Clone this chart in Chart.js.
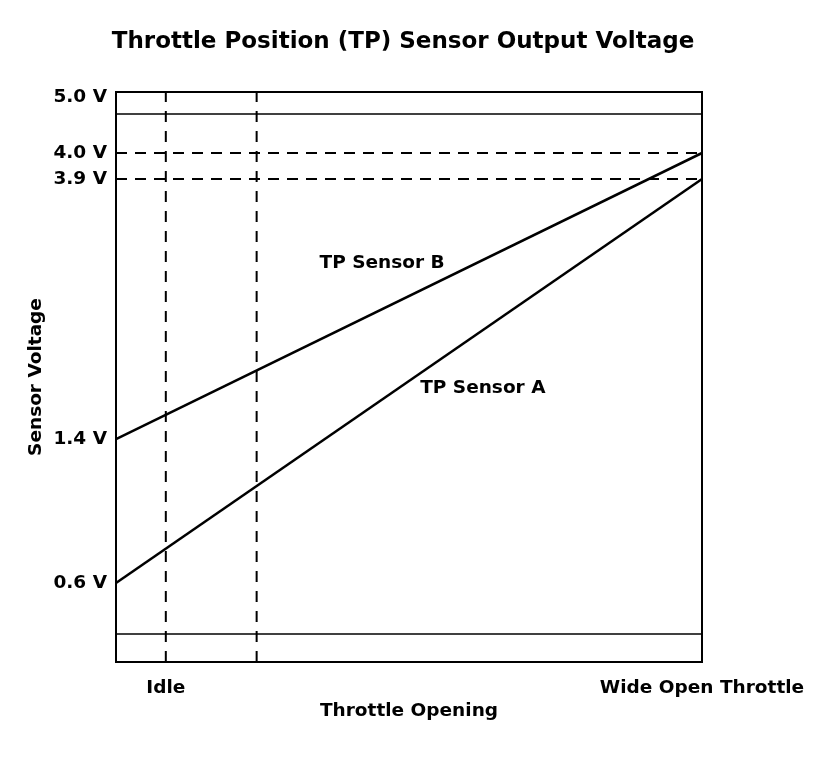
<!DOCTYPE html>
<html>
<head>
<meta charset="utf-8">
<title>Throttle Position (TP) Sensor Output Voltage</title>
<script src="https://cdn.jsdelivr.net/npm/chart.js@4.4.0/dist/chart.umd.min.js"></script>
<style>
  html, body { margin: 0; padding: 0; background: #fff; }
  #wrap { width: 832px; height: 780px; }
</style>
</head>
<body>
<div id="wrap"><canvas id="tp" width="832" height="780"></canvas></div>
<script>
// Throttle opening, percent: fully closed and wide open
const throttleEnds = [0, 100];
// Sensor output voltages at closed and wide open throttle
const sensorA = [0.6, 3.9];
const sensorB = [1.4, 4.0];
// Voltage levels marked on the axis
const voltageTicks = [0.6, 1.4, 3.9, 4.0, 5.0];
// Dashed guide levels (wide open throttle outputs)
const dashedLevels = [4.0, 3.9];
// Solid limit levels
const limitLevels = [4.8, 0.2];
// Throttle openings marked with dashed verticals (idle, part throttle)
const throttleMarks = [8.5, 24];
// Throttle axis labels and where they sit
const xTickValues = [8.5, 100];
const xTickLabels = ['Idle', 'Wide Open Throttle'];
// Voltage range of the plot
const vMin = 0;
const vMax = 5.1;

// The voltage axis is schematic: each marked level has its own spot on the axis.
// Pairs are [volts, fraction of axis height from the bottom].
const voltageBreaks = [
  [0.0, 0.0],
  [0.2, 0.0491],
  [0.6, 0.1386],
  [1.4, 0.3912],
  [3.9, 0.8474],
  [4.0, 0.8930],
  [4.8, 0.9614],
  [5.0, 0.9912],
  [5.1, 1.0]
];

function voltToDecimal(v) {
  const b = voltageBreaks;
  if (v <= b[0][0]) return b[0][1];
  for (let i = 1; i < b.length; i++) {
    if (v <= b[i][0]) {
      const t = (v - b[i - 1][0]) / (b[i][0] - b[i - 1][0]);
      return b[i - 1][1] + t * (b[i][1] - b[i - 1][1]);
    }
  }
  return b[b.length - 1][1];
}

function decimalToVolt(d) {
  const b = voltageBreaks;
  if (d <= b[0][1]) return b[0][0];
  for (let i = 1; i < b.length; i++) {
    if (d <= b[i][1]) {
      const t = (d - b[i - 1][1]) / (b[i][1] - b[i - 1][1]);
      return b[i - 1][0] + t * (b[i][0] - b[i - 1][0]);
    }
  }
  return b[b.length - 1][0];
}

class VoltageScale extends Chart.LinearScale {
  getPixelForValue(value) {
    if (value === null || value === undefined || isNaN(value)) return NaN;
    return this.getPixelForDecimal(voltToDecimal(value));
  }
  getValueForPixel(pixel) {
    return decimalToVolt(this.getDecimalForPixel(pixel));
  }
}
VoltageScale.id = 'voltage';
VoltageScale.defaults = Chart.LinearScale.defaults;
Chart.register(VoltageScale);

const FONT = '"DejaVu Sans", "Liberation Sans", Arial, sans-serif';
const INK = '#000';
const LABEL_FONT = { family: FONT, size: 18.5, weight: 'bold', lineHeight: 1.2 };

function lineSet(xs, ys, extra) {
  return Object.assign({
    data: xs.map((x, i) => ({ x: x, y: ys[i] })),
    borderColor: INK,
    backgroundColor: INK,
    borderWidth: 2,
    pointRadius: 0,
    pointHoverRadius: 0,
    fill: false,
    tension: 0
  }, extra || {});
}

// Curve names written next to the lines, in data coordinates
const curveNames = [
  { text: 'TP Sensor B', x: 45.4, y: 3.09 },
  { text: 'TP Sensor A', x: 62.6, y: 1.89 }
];

const curveNamePlugin = {
  id: 'curveNames',
  afterDatasetsDraw(chart) {
    const { ctx, scales } = chart;
    ctx.save();
    ctx.fillStyle = INK;
    ctx.font = 'bold 18.5px ' + FONT;
    ctx.textAlign = 'center';
    ctx.textBaseline = 'middle';
    curveNames.forEach(n => {
      ctx.fillText(n.text, scales.x.getPixelForValue(n.x), scales.y.getPixelForValue(n.y));
    });
    ctx.restore();
  }
};

const frameAxis = (position, size) => ({
  type: 'linear',
  position: position,
  display: true,
  ticks: { display: false },
  grid: { display: false, drawTicks: false },
  border: { display: true, color: INK, width: 2 },
  afterFit: s => {
    if (position === 'right') s.width = size;
    else s.height = size;
  }
});

new Chart(document.getElementById('tp'), {
  type: 'line',
  data: {
    datasets: [
      lineSet(throttleEnds, sensorA, { label: 'TP Sensor A', borderWidth: 2.5 }),
      lineSet(throttleEnds, sensorB, { label: 'TP Sensor B', borderWidth: 2.5 }),
      ...dashedLevels.map(v => lineSet(throttleEnds, [v, v], { label: v.toFixed(1) + ' V', borderDash: [11, 8] })),
      ...limitLevels.map(v => lineSet(throttleEnds, [v, v], { label: v.toFixed(1) + ' V limit', borderWidth: 1.5 })),
      ...throttleMarks.map(x => lineSet([x, x], [vMin, vMax], { label: 'throttle ' + x, borderDash: [11, 9] }))
    ]
  },
  options: {
    responsive: false,
    animation: false,
    events: [],
    layout: { padding: { left: 0, right: 26, top: 0, bottom: 0 } },
    plugins: {
      legend: { display: false },
      tooltip: { enabled: false },
      title: {
        display: true,
        text: 'Throttle Position (TP) Sensor Output Voltage',
        color: INK,
        font: { family: FONT, size: 23, weight: 'bold', lineHeight: 1.2 },
        padding: { top: 28.2, bottom: 36.2 }
      }
    },
    scales: {
      x: {
        type: 'linear',
        position: 'bottom',
        min: 0,
        max: 100,
        afterBuildTicks: s => { s.ticks = xTickValues.map(v => ({ value: v })); },
        afterFit: s => { s.height = 118; },
        grid: { display: false, drawTicks: true, tickLength: 15 },
        border: { display: true, color: INK, width: 2 },
        ticks: {
          color: INK,
          padding: 0,
          autoSkip: false,
          maxRotation: 0,
          minRotation: 0,
          font: LABEL_FONT,
          callback: (v, i) => xTickLabels[i]
        },
        title: {
          display: true,
          text: 'Throttle Opening',
          color: INK,
          font: LABEL_FONT,
          padding: { top: 0, bottom: 58 }
        }
      },
      y: {
        type: 'voltage',
        position: 'left',
        min: vMin,
        max: vMax,
        afterBuildTicks: s => { s.ticks = voltageTicks.map(v => ({ value: v })); },
        afterFit: s => { s.width = 116; },
        grid: { display: false, drawTicks: true, tickLength: 9 },
        border: { display: true, color: INK, width: 2 },
        ticks: {
          color: INK,
          padding: 0,
          autoSkip: false,
          font: LABEL_FONT,
          callback: v => Number(v).toFixed(1) + ' V'
        },
        title: {
          display: true,
          text: 'Sensor Voltage',
          color: INK,
          font: LABEL_FONT,
          padding: { top: 25, bottom: 0 }
        }
      },
      xTop: frameAxis('top', 0),
      yRight: frameAxis('right', 104)
    }
  },
  plugins: [curveNamePlugin]
});
</script>
</body>
</html>
